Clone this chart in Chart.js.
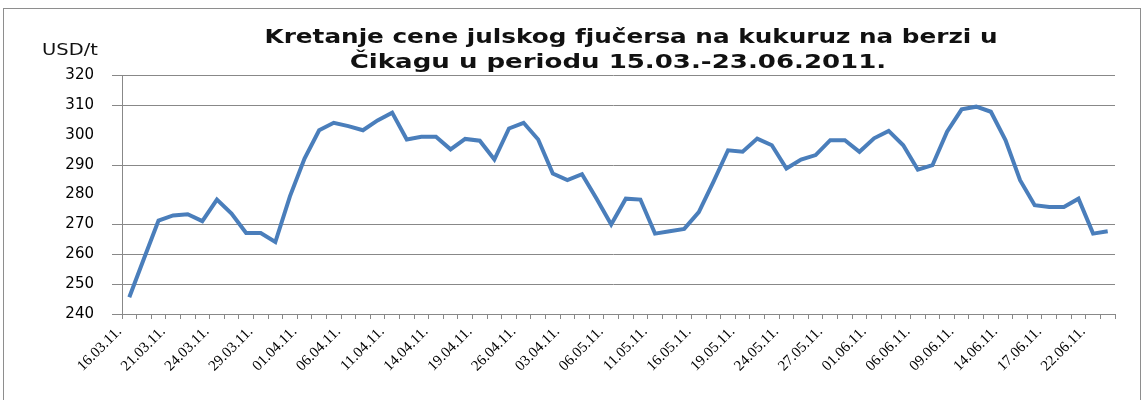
<!DOCTYPE html>
<html>
<head>
<meta charset="utf-8">
<script src="https://cdn.jsdelivr.net/npm/chart.js@4/dist/chart.umd.min.js"></script>
<style>
  body { margin: 0; background: #fff; overflow: hidden; }
  #frame { position: absolute; left: 3px; top: 8px; width: 1136px; height: 430px; border: 1px solid #8e8e8e; }
  #thisChart { position: absolute; left: 0; top: 0; }
</style>
</head>
<body>
<div id="frame"></div>
<canvas id="thisChart" width="1145" height="400"></canvas>
<script>
// tick labels, one on every third trading day
const tickLabels = ['16.03.11.', '21.03.11.', '24.03.11.', '29.03.11.', '01.04.11.', '06.04.11.',
  '11.04.11.', '14.04.11.', '19.04.11.', '26.04.11.', '03.04.11.', '06.05.11.', '11.05.11.',
  '16.05.11.', '19.05.11.', '24.05.11.', '27.05.11.', '01.06.11.', '06.06.11.', '09.06.11.',
  '14.06.11.', '17.06.11.', '22.06.11.']

// USD/t, July corn futures, CBOT
const prices = [245.6, 258.5, 271.3, 273, 273.4, 271.1, 278.3, 273.6, 267.1, 267.1,
  264.1, 279.4, 292, 301.5, 304, 302.9, 301.5, 304.8, 307.4, 298.4,
  299.3, 299.3, 295.1, 298.6, 298, 291.7, 302.1, 304, 298.4, 287,
  284.8, 286.8, 278.6, 270, 278.6, 278.3, 266.9, 267.7, 268.5, 274.1,
  284.2, 294.8, 294.3, 298.7, 296.5, 288.7, 291.7, 293.2, 298.2, 298.2,
  294.3, 298.8, 301.3, 296.5, 288.3, 289.8, 301, 308.5, 309.4, 307.7,
  298.2, 284.8, 276.4, 275.8, 275.8, 278.6, 266.9, 267.7]

// gridlines that show in the original (280 and 300 are not there)
const gridValues = [240, 250, 260, 270, 290, 310, 320]

const titleLines = ['Kretanje cene julskog fjučersa na kukuruz na berzi u',
  'Čikagu u periodu 15.03.-23.06.2011.']
const unitLabel = 'USD/t'

let categories = prices.map((p, i) => i % 3 === 0 ? tickLabels[i / 3] : '')

// the original text is stretched sideways, so draw it wider than the font
function wideText(ctx, text, x, y, sx) {
  ctx.save()
  ctx.translate(x, y)
  ctx.scale(sx, 1)
  ctx.fillText(text, 0, 0)
  ctx.restore()
}

const gridPlugin = {
  id: 'gridPlugin',
  beforeDatasetsDraw(chart) {
    const ctx = chart.ctx, area = chart.chartArea, y = chart.scales.y
    ctx.save()
    ctx.strokeStyle = '#888'
    ctx.lineWidth = 1
    gridValues.forEach(v => {
      const py = Math.round(y.getPixelForValue(v)) + 0.5
      ctx.beginPath()
      ctx.moveTo(area.left - 10, py)
      ctx.lineTo(area.right, py)
      ctx.stroke()
    })
    ctx.restore()
  }
}

const texts = {
  id: 'texts',
  afterDraw(chart) {
    const ctx = chart.ctx
    ctx.save()
    ctx.fillStyle = '#111'
    ctx.textBaseline = 'middle'
    ctx.textAlign = 'center'
    ctx.font = 'bold 19px "DejaVu Sans"'
    wideText(ctx, titleLines[0], 631, 38, 1.3)
    wideText(ctx, titleLines[1], 618, 63, 1.37)
    ctx.textAlign = 'left'
    ctx.font = '15px "DejaVu Sans"'
    wideText(ctx, unitLabel, 42, 51, 1.3)
    ctx.restore()
  }
}

const data = {
  labels: categories,
  datasets: [{
    label: 'cena',
    data: prices,
    borderColor: '#4a7ebb',
    borderWidth: 4,
    pointRadius: 0,
    tension: 0,
    fill: false
  }]
}

const config = {
  type: 'line',
  data,
  options: {
    responsive: false,
    animation: false,
    layout: { padding: { top: 75, right: 30, left: 0, bottom: 0 } },
    plugins: { legend: { display: false }, tooltip: { enabled: false } },
    scales: {
      x: {
        offset: true,
        grid: { offset: true, drawOnChartArea: false, tickLength: 5, color: '#888' },
        border: { color: '#888' },
        ticks: {
          autoSkip: false, minRotation: 45, maxRotation: 45, padding: 4, labelOffset: -10,
          color: '#000', font: { family: 'Liberation Serif', size: 15 }
        },
        afterFit: s => { s.height = 86 }
      },
      y: {
        min: 240,
        max: 320,
        grid: { display: false, tickLength: 10 },
        border: { color: '#888' },
        ticks: {
          stepSize: 10, padding: 18, color: '#000',
          font: { family: 'DejaVu Sans', size: 15 }
        },
        afterFit: s => { s.width = 122 }
      }
    }
  },
  plugins: [gridPlugin, texts]
}

const lineChart = new Chart(document.getElementById('thisChart').getContext('2d'), config)
</script>
</body>
</html>
